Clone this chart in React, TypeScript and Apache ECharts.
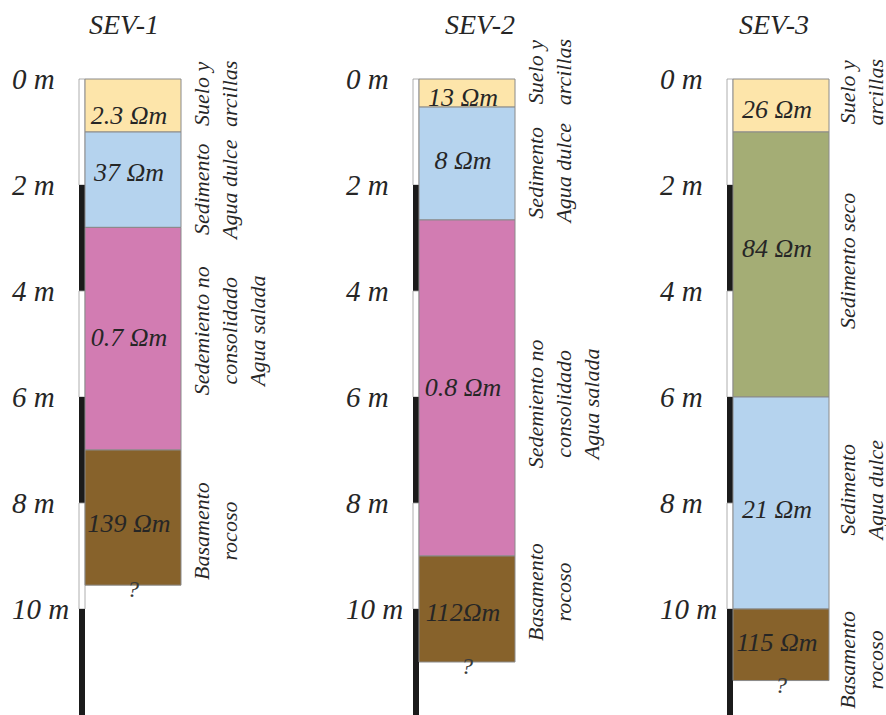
import { useEffect, useRef } from "react";
import * as echarts from "echarts";

// Sondeos eléctricos verticales (SEV): techo y base de cada capa en metros
const sevTitles = ["SEV-1", "SEV-2", "SEV-3"];

const sev1Top = [0, 1.0, 2.8, 7.0];
const sev1Base = [1.0, 2.8, 7.0, 9.55];
const sev1Rho = ["2.3 Ωm", "37 Ωm", "0.7 Ωm", "139 Ωm"];
const sev1Kind = ["suelo", "dulce", "salada", "roca"];
const sev1Notes = ["Suelo y\narcillas", "Sedimento\nAgua dulce", "Sedemiento no\nconsolidado\nAgua salada", "Basamento\nrocoso"];

const sev2Top = [0, 0.53, 2.66, 9.0];
const sev2Base = [0.53, 2.66, 9.0, 11.0];
const sev2Rho = ["13 Ωm", "8 Ωm", "0.8 Ωm", "112Ωm"];
const sev2Kind = ["suelo", "dulce", "salada", "roca"];
const sev2Notes = ["Suelo y\narcillas", "Sedimento\nAgua dulce", "Sedemiento no\nconsolidado\nAgua salada", "Basamento\nrocoso"];

const sev3Top = [0, 1.0, 6.0, 10.0];
const sev3Base = [1.0, 6.0, 10.0, 11.35];
const sev3Rho = ["26 Ωm", "84 Ωm", "21 Ωm", "115 Ωm"];
const sev3Kind = ["suelo", "seco", "dulce", "roca"];
const sev3Notes = ["Suelo y\narcillas", "Sedimento seco", "Sedimento\nAgua dulce", "Basamento\nrocoso"];

// Escala gráfica de profundidad (tramos de 2 m)
const depthMin = 0;
const depthMax = 12;
const depthStep = 2;
const scaleFrom = [0, 2, 4, 6, 8, 10];
const scaleTo = [2, 4, 6, 8, 10, 12];

// Profundidades donde se colocan los rótulos de resistividad y de descripción
const rhoAt = [
  [0.68, 1.77, 4.87, 8.38],
  [0.34, 1.53, 5.83, 10.06],
  [0.58, 3.2, 8.13, 10.64],
];
const noteAt = [
  [0.28, 2.08, 4.75, 8.53],
  [-0.13, 1.77, 6.13, 9.68],
  [0.25, 3.43, 7.75, 10.96],
];

const KIND_COLOR: Record<string, string> = {
  suelo: "#FDE5AA",
  dulce: "#B5D3EE",
  salada: "#D27CB2",
  roca: "#87622B",
  seco: "#A4AD75",
};

const SERIF = "Liberation Serif, serif";
const INK = "#262626";

const BOX_LEFT = [85, 419, 733];
const BOX_WIDTH = 96;
const GRID_TOP = 79;
const GRID_HEIGHT = 636;
const BAR_WIDTH = 6;
const TITLE_X = [124, 480, 774];
const TITLE_Y = 24;
const NOTE_GAP = [20, 20, 18];

type Sev = {
  top: number[];
  base: number[];
  rho: string[];
  kind: string[];
  notes: string[];
};

const sevs: Sev[] = [
  { top: sev1Top, base: sev1Base, rho: sev1Rho, kind: sev1Kind, notes: sev1Notes },
  { top: sev2Top, base: sev2Base, rho: sev2Rho, kind: sev2Kind, notes: sev2Notes },
  { top: sev3Top, base: sev3Base, rho: sev3Rho, kind: sev3Kind, notes: sev3Notes },
];

function buildOption() {
  const grid: any[] = [];
  const xAxis: any[] = [];
  const yAxis: any[] = [];
  const series: any[] = [];

  sevs.forEach((sev, g) => {
    grid.push({ left: BOX_LEFT[g], top: GRID_TOP, width: BOX_WIDTH, height: GRID_HEIGHT });
    xAxis.push({ type: "value", gridIndex: g, min: 0, max: 1, show: false });
    yAxis.push({
      type: "value",
      gridIndex: g,
      inverse: true,
      min: depthMin,
      max: depthMax,
      interval: depthStep,
      axisLine: { show: false },
      axisTick: { show: false },
      splitLine: { show: false },
      axisLabel: {
        formatter: "{value} m",
        showMaxLabel: false,
        align: "left",
        margin: 73,
        fontSize: 29,
        fontFamily: SERIF,
        fontStyle: "italic",
        color: INK,
      },
    });

    // escala gráfica blanco / negro a la izquierda de la columna
    series.push({
      type: "custom",
      xAxisIndex: g,
      yAxisIndex: g,
      encode: { x: 0, y: [1, 2] },
      data: scaleFrom.map((f, i) => [0, f, scaleTo[i]]),
      renderItem: (params: any, api: any) => {
        const a = api.coord([0, api.value(1)]);
        const b = api.coord([0, api.value(2)]);
        const dark = params.dataIndex % 2 === 1;
        return {
          type: "rect",
          shape: { x: a[0] - BAR_WIDTH, y: a[1], width: BAR_WIDTH, height: b[1] - a[1] },
          style: dark
            ? { fill: "#1b1b1b" }
            : { fill: "#ffffff", stroke: "#9a9a9a", lineWidth: 0.8 },
        };
      },
    });

    // capas geoeléctricas con su resistividad y descripción
    const last = sev.top.length - 1;
    series.push({
      type: "custom",
      xAxisIndex: g,
      yAxisIndex: g,
      encode: { x: 0, y: [1, 2] },
      data: sev.top.map((t, i) => [0, t, sev.base[i]]),
      renderItem: (params: any, api: any) => {
        const i = params.dataIndex;
        const a = api.coord([0, api.value(1)]);
        const b = api.coord([1, api.value(2)]);
        const w = b[0] - a[0];
        const h = b[1] - a[1];
        const lines = sev.notes[i].split("\n").length;
        const children: any[] = [
          {
            type: "rect",
            shape: { x: a[0], y: a[1], width: w, height: h },
            style: { fill: KIND_COLOR[sev.kind[i]], stroke: "#8a8a8a", lineWidth: 1 },
          },
          {
            type: "text",
            x: a[0] + w / 2 - 4,
            y: api.coord([0, rhoAt[g][i]])[1],
            style: {
              text: sev.rho[i],
              fill: INK,
              fontSize: 26,
              fontFamily: SERIF,
              fontStyle: "italic",
              align: "center",
              verticalAlign: "middle",
            },
          },
          {
            type: "text",
            x: b[0] + NOTE_GAP[g] + ((lines - 1) * 28) / 2,
            y: api.coord([0, noteAt[g][i]])[1],
            rotation: Math.PI / 2,
            style: {
              text: sev.notes[i],
              fill: INK,
              fontSize: 22,
              lineHeight: 28,
              fontFamily: SERIF,
              fontStyle: "italic",
              align: "center",
              verticalAlign: "middle",
            },
          },
        ];
        if (i === last) {
          children.push({
            type: "text",
            x: a[0] + w / 2,
            y: b[1] + 4,
            style: {
              text: "?",
              fill: "#3a3a3a",
              fontSize: 24,
              fontFamily: SERIF,
              fontStyle: "italic",
              align: "center",
              verticalAlign: "middle",
            },
          });
        }
        return { type: "group", children };
      },
    });
  });

  const graphic = sevTitles.map((t, g) => ({
    type: "text",
    x: TITLE_X[g],
    y: TITLE_Y,
    style: {
      text: t,
      fill: INK,
      fontSize: 28,
      fontFamily: SERIF,
      fontStyle: "italic",
      align: "center",
      verticalAlign: "middle",
    },
  }));

  return {
    animation: false,
    backgroundColor: "#ffffff",
    grid,
    xAxis,
    yAxis,
    series,
    graphic,
  };
}

export default function App() {
  const ref = useRef<HTMLDivElement>(null);

  useEffect(() => {
    if (!ref.current) return;
    const chart = echarts.init(ref.current, undefined, { renderer: "svg" });
    chart.setOption(buildOption() as any);
    return () => chart.dispose();
  }, []);

  return (
    <div
      ref={ref}
      style={{ position: "fixed", left: 0, top: 0, width: 886, height: 715 }}
    />
  );
}
